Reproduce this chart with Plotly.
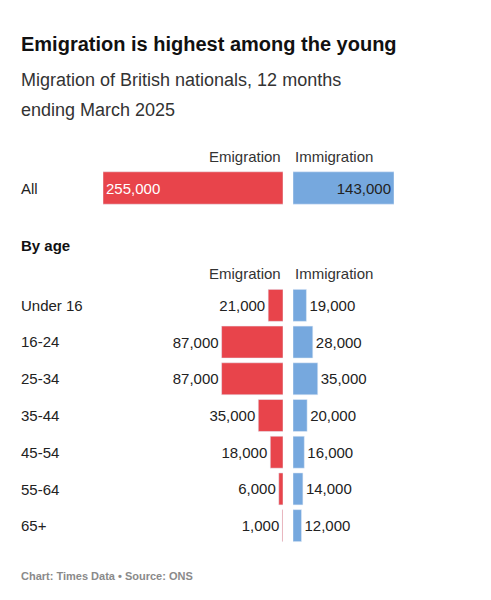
import plotly.graph_objects as go

W, H = 491, 600
ages = ["Under 16", "16-24", "25-34", "35-44", "45-54", "55-64", "65+"]
emig_age = [21000, 87000, 87000, 35000, 18000, 6000, 1000]
immig_age = [19000, 28000, 35000, 20000, 16000, 14000, 12000]
emig_all = 255000
immig_all = 143000

red = "#e8444b"
blue = "#76a8de"
font = "Liberation Sans"

# page renders with a small offset, compensate
OX, OY = 8, 8

def px_x(p):
    return (p - OX) / W

def px_y(p):
    return 1 - (p - OY) / H

fmt = lambda v: f"{v:,}"

fig = go.Figure()
fig.add_bar(x=[emig_all], y=["All"], orientation="h", marker_color=red, xaxis="x", yaxis="y",
            text=[fmt(emig_all)], textposition="inside", insidetextanchor="end",
            textfont=dict(color="white", size=15), width=0.9)
fig.add_bar(x=[immig_all], y=["All"], orientation="h", marker_color=blue, xaxis="x2", yaxis="y2",
            text=[fmt(immig_all)], textposition="inside", insidetextanchor="end",
            textfont=dict(color="#222", size=15), width=0.9)
fig.add_bar(x=emig_age, y=ages, orientation="h", marker_color=red, xaxis="x3", yaxis="y3",
            text=[fmt(v) for v in emig_age], textposition="outside", cliponaxis=False,
            textfont=dict(color="#222", size=15), width=0.87)
fig.add_bar(x=immig_age, y=ages, orientation="h", marker_color=blue, xaxis="x4", yaxis="y4",
            text=[fmt(v) for v in immig_age], textposition="outside", cliponaxis=False,
            textfont=dict(color="#222", size=15), width=0.87)

left = [px_x(103), px_x(283)]
right = [px_x(293), px_x(394)]
ax = dict(visible=False, fixedrange=True)
top_dom = [px_y(206), px_y(170)]
age_dom = [px_y(544), px_y(287)]

annotations = [
    dict(text="<b>Emigration is highest among the young</b>", x=px_x(19), y=px_y(44), size=20, color="#111"),
    dict(text="Migration of British nationals, 12 months", x=px_x(19), y=px_y(80), size=18, color="#333"),
    dict(text="ending March 2025", x=px_x(19), y=px_y(110), size=18, color="#333"),
    dict(text="<b>By age</b>", x=px_x(19), y=px_y(245), size=15, color="#111"),
    dict(text="<b>Chart: Times Data • Source: ONS</b>", x=px_x(19), y=px_y(576), size=11, color="#8a8a8a"),
    dict(text="All", x=px_x(19), y=px_y(188), size=15, color="#222"),
]
for yy in (157, 273):
    annotations.append(dict(text="Emigration", x=px_x(283), y=px_y(yy), size=15, color="#333", xanchor="right"))
    annotations.append(dict(text="Immigration", x=px_x(293), y=px_y(yy), size=15, color="#333"))
for i, a in enumerate(ages):
    annotations.append(dict(text=a, x=px_x(19), y=px_y(305 + i * 36.8), size=15, color="#222"))

fig.update_layout(
    width=W, height=H, margin=dict(l=0, r=0, t=0, b=0),
    paper_bgcolor="white", plot_bgcolor="white", showlegend=False,
    font=dict(family=font, size=15, color="#222"),
    xaxis=dict(ax, domain=left, range=[emig_all, 0]),
    xaxis2=dict(ax, domain=right, range=[0, immig_all]),
    xaxis3=dict(ax, domain=left, range=[emig_all, 0]),
    xaxis4=dict(ax, domain=right, range=[0, immig_all]),
    yaxis=dict(ax, domain=top_dom, anchor="x"),
    yaxis2=dict(ax, domain=top_dom, anchor="x2"),
    yaxis3=dict(ax, domain=age_dom, anchor="x3", autorange="reversed"),
    yaxis4=dict(ax, domain=age_dom, anchor="x4", autorange="reversed"),
    annotations=[dict(text=a["text"], x=a["x"], y=a["y"], xref="paper", yref="paper",
                      xanchor=a.get("xanchor", "left"), yanchor="middle", showarrow=False,
                      font=dict(size=a["size"], color=a["color"], family=font)) for a in annotations],
)
fig.write_html("out.html")
